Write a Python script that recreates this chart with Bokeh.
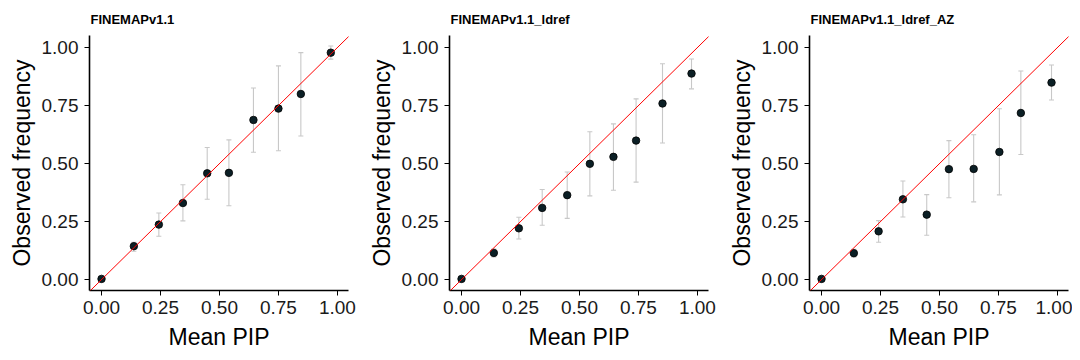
from bokeh.plotting import figure
from bokeh.layouts import row
from bokeh.models import ColumnDataSource, Whisker, TeeHead, Range1d, FixedTicker, Slope, Title
from bokeh.embed import file_html
from bokeh.resources import INLINE

titles = ["FINEMAPv1.1", "FINEMAPv1.1_ldref", "FINEMAPv1.1_ldref_AZ"]

x1 = [0.0, 0.137, 0.243, 0.345, 0.448, 0.540, 0.644, 0.750, 0.845, 0.972]
y1 = [0.003, 0.144, 0.237, 0.330, 0.458, 0.460, 0.688, 0.737, 0.800, 0.978]
lo1 = [0.0, 0.122, 0.187, 0.253, 0.346, 0.318, 0.549, 0.555, 0.619, 0.950]
hi1 = [0.006, 0.161, 0.287, 0.409, 0.569, 0.602, 0.826, 0.921, 0.978, 1.007]

x2 = [0.0, 0.137, 0.243, 0.342, 0.448, 0.544, 0.644, 0.740, 0.852, 0.975]
y2 = [0.003, 0.115, 0.221, 0.309, 0.364, 0.499, 0.529, 0.599, 0.759, 0.888]
lo2 = [0.0, 0.098, 0.175, 0.234, 0.264, 0.361, 0.385, 0.420, 0.589, 0.822]
hi2 = [0.006, 0.132, 0.269, 0.388, 0.464, 0.637, 0.671, 0.779, 0.930, 0.951]

x3 = [0.0, 0.137, 0.242, 0.345, 0.446, 0.540, 0.645, 0.754, 0.845, 0.975]
y3 = [0.003, 0.114, 0.208, 0.346, 0.280, 0.476, 0.477, 0.550, 0.718, 0.849]
lo3 = [0.0, 0.097, 0.161, 0.270, 0.191, 0.353, 0.335, 0.365, 0.539, 0.774]
hi3 = [0.006, 0.131, 0.254, 0.425, 0.366, 0.599, 0.624, 0.736, 0.899, 0.925]

ticks = [0.0, 0.25, 0.5, 0.75, 1.0]
tick_labels = {0.0: "0.00", 0.25: "0.25", 0.5: "0.50", 0.75: "0.75", 1.0: "1.00"}

FONT = "Liberation Sans"


def panel(title, xs, ys, los, his, right_border):
    p = figure(frame_width=259, frame_height=255, output_backend="svg", toolbar_location=None,
               x_range=Range1d(-0.051, 1.047), y_range=Range1d(-0.047, 1.052),
               min_border_left=89, min_border_right=right_border,
               min_border_top=35, min_border_bottom=60)
    p.title = None
    t = Title(text=title, text_font=FONT, text_font_size="13px", text_font_style="bold",
              text_color="black", align="left", vertical_align="top", offset=1, standoff=14)
    p.add_layout(t, "above")
    p.outline_line_color = None
    p.grid.visible = False
    p.background_fill_color = "white"
    p.border_fill_color = "white"

    src = ColumnDataSource(dict(x=xs, y=ys, lo=los, hi=his))
    w = Whisker(base="x", lower="lo", upper="hi", source=src,
                line_color="#c8c8c8", line_width=1.1,
                lower_head=TeeHead(size=5, line_color="#c8c8c8", line_width=1.1),
                upper_head=TeeHead(size=5, line_color="#c8c8c8", line_width=1.1))
    p.add_layout(w)
    p.scatter("x", "y", source=src, size=7.5, fill_color="#0b1f25", line_color="black", line_width=0.8)
    p.add_layout(Slope(gradient=1, y_intercept=0, line_color="red", line_width=1))

    for ax in (p.xaxis[0], p.yaxis[0]):
        ax.ticker = FixedTicker(ticks=ticks)
        ax.major_label_overrides = tick_labels
        ax.minor_tick_line_color = None
        ax.major_tick_in = 0
        ax.major_tick_out = 5
        ax.major_tick_line_color = "black"
        ax.major_tick_line_width = 1
        ax.axis_line_color = "black"
        ax.axis_line_width = 1.6
        ax.major_label_text_font = FONT
        ax.major_label_text_font_size = "19px"
        ax.major_label_text_color = "#1a1a1a"
        ax.axis_label_text_font = FONT
        ax.axis_label_text_font_size = "23px"
        ax.axis_label_text_font_style = "normal"
        ax.axis_label_text_color = "black"
    p.xaxis.axis_label = "Mean PIP"
    p.yaxis.axis_label = "Observed frequency"
    p.xaxis.major_label_standoff = 5
    p.yaxis.major_label_standoff = 6
    p.xaxis.axis_label_standoff = 7
    p.yaxis.axis_label_standoff = 4
    return p


p1 = panel(titles[0], x1, y1, lo1, hi1, 12)
p2 = panel(titles[1], x2, y2, lo2, hi2, 12)
p3 = panel(titles[2], x3, y3, lo3, hi3, 4)

layout = row(p1, p2, p3, spacing=0)
open("out.html", "w").write(file_html(layout, INLINE))
